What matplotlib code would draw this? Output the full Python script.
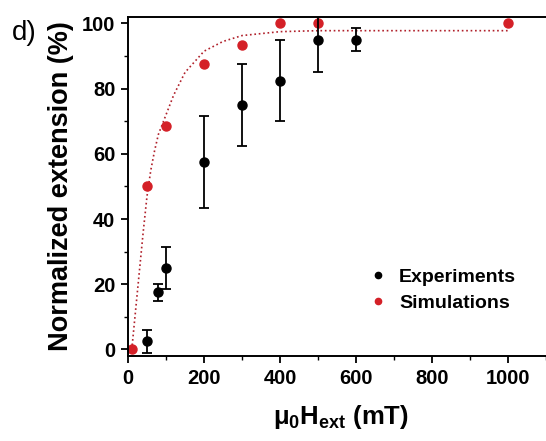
import matplotlib
matplotlib.use('Agg')
from matplotlib import pyplot as plt
from matplotlib.lines import Line2D
from matplotlib.ticker import MultipleLocator

# Datos
campo_exp = [50, 80, 100, 200, 300, 400, 500, 600]
ext_exp = [2.5, 17.5, 25, 57.5, 75, 82.5, 95, 95]
err_exp = [3.5, 2.5, 6.3, 14, 12.6, 12.4, 10, 3.5]

campo_sim = [10, 50, 100, 200, 300, 400, 500, 1000]
ext_sim = [0, 50, 68.5, 87.5, 93.5, 100, 100, 100]

# curva punteada (ajuste), puntos leidos a ojo
campo_fit = [10, 20, 30, 40, 50, 60, 70, 80, 100, 120, 150, 200, 250, 300, 400, 500, 700, 1000]
ext_fit = [0, 12, 24, 36, 47, 55, 61, 66, 72, 78, 85, 91.5, 94.5, 96.3, 97.5, 97.8, 97.8, 97.8]

plt.rcParams['font.family'] = ['Liberation Sans', 'DejaVu Sans']
plt.rcParams['mathtext.fontset'] = 'custom'
plt.rcParams['mathtext.rm'] = 'Liberation Sans'
plt.rcParams['mathtext.bf'] = 'Liberation Sans:bold'

fig = plt.figure(figsize=(5.46, 4.41), dpi=100)
ax = fig.add_axes([0.2344, 0.1927, 0.78, 0.7688])

rojo = '#d42027'
ax.plot(campo_fit, ext_fit, linestyle=':', color='#b0202a', linewidth=1.2, zorder=1)
ax.errorbar(campo_exp, ext_exp, yerr=err_exp, fmt='o', color='black', ms=6.5,
            capsize=3.3, elinewidth=1.3, capthick=1.3, zorder=3)
ax.plot(campo_sim, ext_sim, 'o', color=rojo, ms=6.5, zorder=2)

ax.set_xlim(0, 1120)
ax.set_ylim(-2, 102)
ax.xaxis.set_major_locator(MultipleLocator(200))
ax.xaxis.set_minor_locator(MultipleLocator(100))
ax.yaxis.set_major_locator(MultipleLocator(20))
ax.yaxis.set_minor_locator(MultipleLocator(10))
ax.tick_params(which='major', direction='out', length=5, width=1.3, labelsize=14.5, pad=4)
ax.tick_params(which='minor', direction='out', length=3, width=1.0)
for lab in ax.get_xticklabels() + ax.get_yticklabels():
    lab.set_fontweight('bold')
for s in ax.spines.values():
    s.set_linewidth(1.4)

ax.set_xlabel(r'$\mathbf{μ_0H_{ext}}$ (mT)', fontsize=18.5, fontweight='bold', labelpad=11)
ax.set_ylabel('Normalized extension (%)', fontsize=19.5, fontweight='bold', labelpad=6)

fig.text(0.022, 0.909, 'd)', fontsize=20)

manejadores = [Line2D([], [], marker='o', color='black', linestyle='none', ms=4.5),
               Line2D([], [], marker='o', color=rojo, linestyle='none', ms=4.5)]
ax.legend(manejadores, ['Experiments', 'Simulations'], loc='center left',
          bbox_to_anchor=(0.527, 0.195), frameon=False,
          handlelength=0.8, handletextpad=0.7, labelspacing=0.45,
          prop={'weight': 'bold', 'size': 14})

fig.savefig('out.png', dpi=100)
